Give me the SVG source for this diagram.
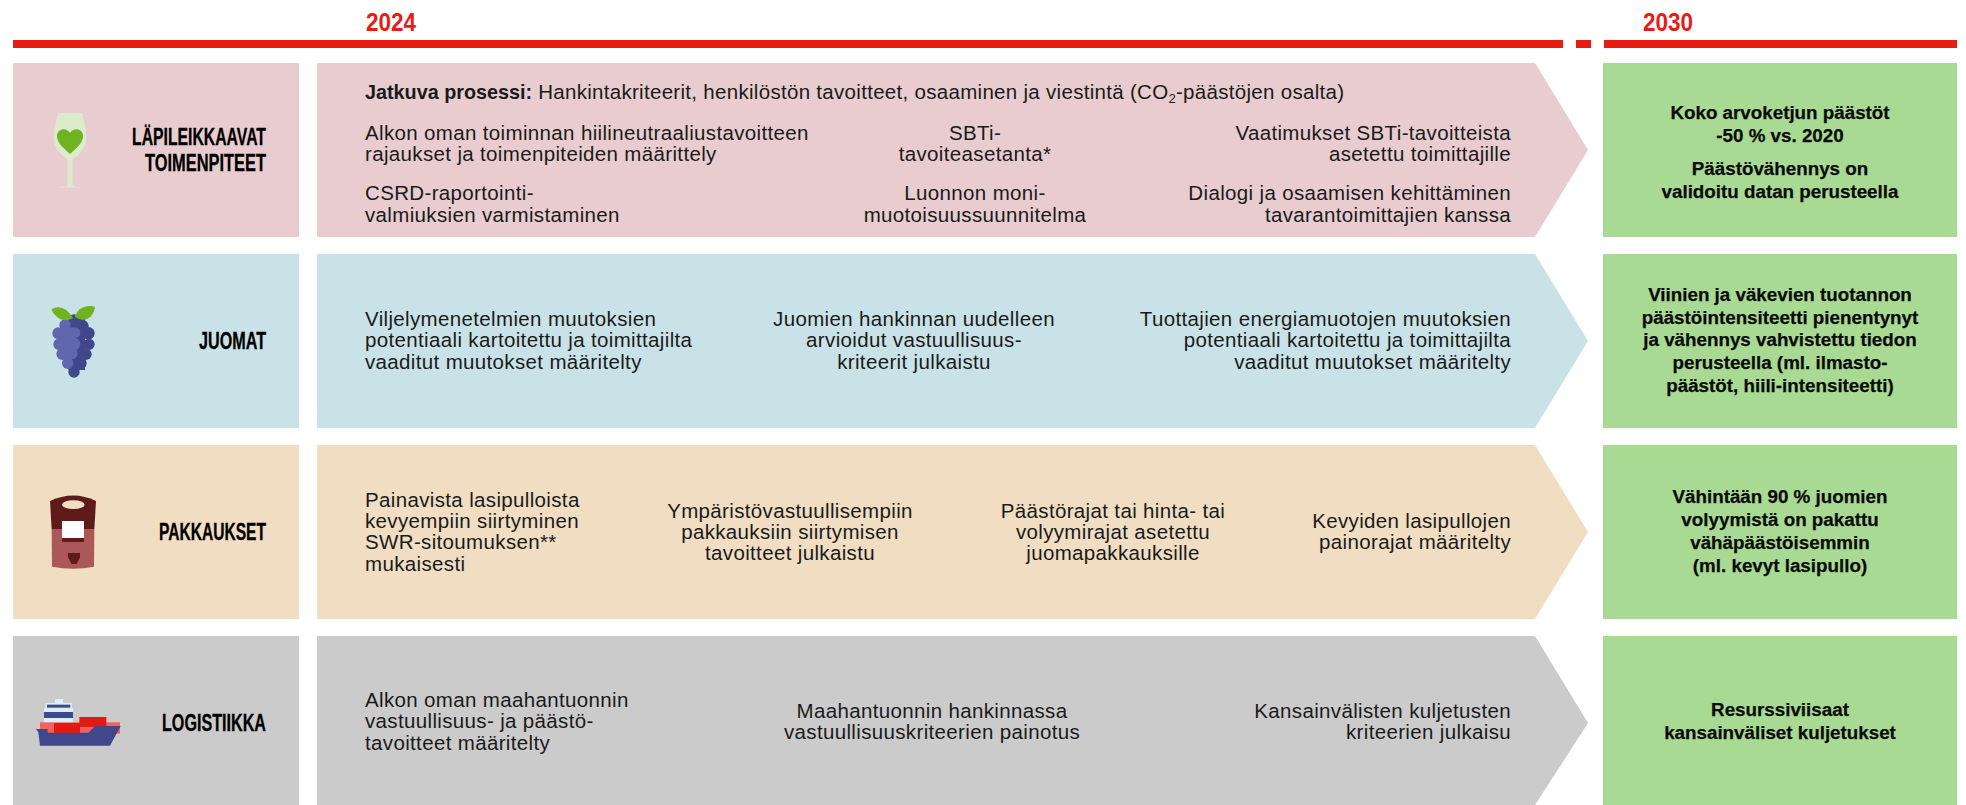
<svg xmlns="http://www.w3.org/2000/svg" width="1966" height="805" viewBox="0 0 1966 805">
<style>
text{font-family:"Liberation Sans",Arial,sans-serif;fill:#1a1a1a;font-size:20.5px;letter-spacing:.35px}
.r{text-anchor:end}.m{text-anchor:middle}
.h{font-weight:700;font-size:23px;fill:#000;stroke:#000;stroke-width:.3px;text-anchor:end;letter-spacing:0}
.y{font-weight:700;font-size:26.5px;fill:#e71d14;letter-spacing:0}
.g{font-weight:700;font-size:18.8px;text-anchor:middle;fill:#0a0a0a;stroke:#0a0a0a;stroke-width:.25px;letter-spacing:0}
.b{font-weight:700;font-size:19.8px;letter-spacing:0}
.red{fill:#e71d14}
</style>
<rect width="1966" height="805" fill="#fff"/>
<g id="timeline">
<rect class="red" x="13" y="40" width="1550" height="8"/><rect class="red" x="1576" y="40" width="15" height="8"/><rect class="red" x="1604" y="40" width="353" height="8"/>
<text class="y" x="366" y="31" textLength="50" lengthAdjust="spacingAndGlyphs">2024</text><text class="y" x="1643" y="31" textLength="50" lengthAdjust="spacingAndGlyphs">2030</text>
</g>
<g id="row1">
<rect x="13" y="63" width="286" height="174" fill="#e8cccf"/>
<path d="M58,113H82L85,125Q88,140 85,146Q80,155 72.500,159V186L82,187.500H58L67.500,186V159Q60,155 55,146Q53,135 55,125Z" fill="#dbebcb"/>
<path d="M70,154C62,147 57,142 57,136C57,128 67,127 70,133C73,127 83,128 83,136C83,142 78,147 70,154Z" fill="#6fb320"/>
<text class="h" x="266" y="145" textLength="134" lengthAdjust="spacingAndGlyphs">LÄPILEIKKAAVAT</text><text class="h" x="266" y="171" textLength="121" lengthAdjust="spacingAndGlyphs">TOIMENPITEET</text>
<polygon points="317,63 1535,63 1588,150 1535,237 317,237" fill="#e8cccf"/>
<text x="365" y="99" style="letter-spacing:.3px"><tspan class="b">Jatkuva prosessi:</tspan> Hankintakriteerit, henkilöstön tavoitteet, osaaminen ja viestintä (CO<tspan font-size="13" dy="4">2</tspan><tspan dy="-4">-päästöjen osalta)</tspan></text>
<text x="365" y="140">Alkon oman toiminnan hiilineutraaliustavoitteen</text><text x="365" y="161">rajaukset ja toimenpiteiden määrittely</text>
<text x="365" y="200">CSRD-raportointi-</text><text x="365" y="222">valmiuksien varmistaminen</text>
<text class="m" x="975" y="140">SBTi-</text><text class="m" x="975" y="161">tavoiteasetanta*</text>
<text class="m" x="975" y="200">Luonnon moni-</text><text class="m" x="975" y="222">muotoisuussuunnitelma</text>
<text class="r" x="1511" y="140">Vaatimukset SBTi-tavoitteista</text><text class="r" x="1511" y="161">asetettu toimittajille</text>
<text class="r" x="1511" y="200">Dialogi ja osaamisen kehittäminen</text><text class="r" x="1511" y="222">tavarantoimittajien kanssa</text>
<rect x="1603" y="63" width="354" height="174" fill="#a8da94"/>
<text class="g" x="1780" y="119">Koko arvoketjun päästöt</text><text class="g" x="1780" y="142">-50 % vs. 2020</text>
<text class="g" x="1780" y="175">Päästövähennys on</text><text class="g" x="1780" y="198">validoitu datan perusteella</text>
</g>
<g id="row2">
<rect x="13" y="254" width="286" height="174" fill="#c9e2e7"/>
<g transform="translate(0,250) scale(.33333)">
<g fill="#40478a"><circle cx="222" cy="210" r="17"/><circle cx="248" cy="228" r="18"/><circle cx="265" cy="250" r="19"/><circle cx="267" cy="283" r="17"/><circle cx="258" cy="313" r="17"/><circle cx="242" cy="340" r="18"/><circle cx="222" cy="366" r="17"/><rect x="205" y="205" width="50" height="155"/></g>
<g fill="#6166ae"><circle cx="195" cy="225" r="17"/><circle cx="225" cy="248" r="16"/><circle cx="175" cy="250" r="18"/><circle cx="178" cy="283" r="18"/><circle cx="222" cy="282" r="19"/><circle cx="187" cy="312" r="18"/><circle cx="215" cy="310" r="18"/><circle cx="203" cy="340" r="17"/><rect x="180" y="232" width="40" height="95"/></g>
<path d="M154,178Q190,158 220,205Q205,212 190,210Q165,205 154,178ZM224,200Q240,160 285,170Q282,195 262,207Q242,213 224,200Z" fill="#6fb320"/>
</g>
<text class="h" x="266" y="349" textLength="67" lengthAdjust="spacingAndGlyphs">JUOMAT</text>
<polygon points="317,254 1535,254 1588,341 1535,428 317,428" fill="#c9e2e7"/>
<text x="365" y="326">Viljelymenetelmien muutoksien</text><text x="365" y="347">potentiaali kartoitettu ja toimittajilta</text><text x="365" y="369">vaaditut muutokset määritelty</text>
<text class="m" x="914" y="326">Juomien hankinnan uudelleen</text><text class="m" x="914" y="347">arvioidut vastuullisuus-</text><text class="m" x="914" y="369">kriteerit julkaistu</text>
<text class="r" x="1511" y="326">Tuottajien energiamuotojen muutoksien</text><text class="r" x="1511" y="347">potentiaali kartoitettu ja toimittajilta</text><text class="r" x="1511" y="369">vaaditut muutokset määritelty</text>
<rect x="1603" y="254" width="354" height="174" fill="#a8da94"/>
<text class="g" x="1780" y="301">Viinien ja väkevien tuotannon</text><text class="g" x="1780" y="324">päästöintensiteetti pienentynyt</text><text class="g" x="1780" y="346">ja vähennys vahvistettu tiedon</text><text class="g" x="1780" y="369">perusteella (ml. ilmasto-</text><text class="g" x="1780" y="392">päästöt, hiili-intensiteetti)</text>
</g>
<g id="row3">
<rect x="13" y="445" width="286" height="174" fill="#f0ddc2"/>
<g transform="translate(0,440) scale(.33333)">
<path d="M155,267H283L282,380Q220,392 156,380Z" fill="#ad5858"/>
<path d="M150,183Q220,150 288,183L283,267H155Z" fill="#5f1a1a"/>
<ellipse cx="220" cy="194" rx="34" ry="13" fill="#f0ddc2"/>
<rect x="186" y="243" width="66" height="63" fill="#5f1a1a"/><rect x="186" y="243" width="66" height="51" fill="#fff"/>
<path d="M204,339H240V352L230,372H215L204,352Z" fill="#5f1a1a"/>
</g>
<text class="h" x="266" y="540" textLength="107" lengthAdjust="spacingAndGlyphs">PAKKAUKSET</text>
<polygon points="317,445 1535,445 1588,532 1535,619 317,619" fill="#f0ddc2"/>
<text x="365" y="507">Painavista lasipulloista</text><text x="365" y="528">kevyempiin siirtyminen</text><text x="365" y="549">SWR-sitoumuksen**</text><text x="365" y="571">mukaisesti</text>
<text class="m" x="790" y="518">Ympäristövastuullisempiin</text><text class="m" x="790" y="539">pakkauksiin siirtymisen</text><text class="m" x="790" y="560">tavoitteet julkaistu</text>
<text class="m" x="1113" y="518">Päästörajat tai hinta- tai</text><text class="m" x="1113" y="539">volyymirajat asetettu</text><text class="m" x="1113" y="560">juomapakkauksille</text>
<text class="r" x="1511" y="528">Kevyiden lasipullojen</text><text class="r" x="1511" y="549">painorajat määritelty</text>
<rect x="1603" y="445" width="354" height="174" fill="#a8da94"/>
<text class="g" x="1780" y="503">Vähintään 90 % juomien</text><text class="g" x="1780" y="526">volyymistä on pakattu</text><text class="g" x="1780" y="549">vähäpäästöisemmin</text><text class="g" x="1780" y="572">(ml. kevyt lasipullo)</text>
</g>
<g id="row4">
<rect x="13" y="636" width="286" height="169" fill="#cbcbcb"/>
<g transform="translate(0,625) scale(.33333)">
<rect x="165" y="222" width="24" height="14" fill="#dbeef5"/>
<rect x="136" y="234" width="80" height="60" fill="#dbeef5"/><rect x="141" y="239" width="70" height="9" fill="#40478a"/><rect x="132" y="249" width="87" height="43" fill="#dbeef5"/><rect x="132" y="261" width="87" height="18" fill="#40478a"/>
<rect x="120" y="292" width="240" height="34" fill="#f0625f"/>
<rect x="162" y="294" width="78" height="30" fill="#e01b14"/><rect x="238" y="276" width="81" height="30" fill="#e01b14"/>
<path d="M108,312H143V323H265L285,303H362L330,362H120L115,322Z" fill="#40478a"/>
</g>
<text class="h" x="266" y="731" textLength="104" lengthAdjust="spacingAndGlyphs">LOGISTIIKKA</text>
<polygon points="317,636 1535,636 1588,723 1535,805 317,805" fill="#cbcbcb"/>
<text x="365" y="707">Alkon oman maahantuonnin</text><text x="365" y="728">vastuullisuus- ja päästö-</text><text x="365" y="750">tavoitteet määritelty</text>
<text class="m" x="932" y="718">Maahantuonnin hankinnassa</text><text class="m" x="932" y="739">vastuullisuuskriteerien painotus</text>
<text class="r" x="1511" y="718">Kansainvälisten kuljetusten</text><text class="r" x="1511" y="739">kriteerien julkaisu</text>
<rect x="1603" y="636" width="354" height="169" fill="#a8da94"/>
<text class="g" x="1780" y="716">Resurssiviisaat</text><text class="g" x="1780" y="739">kansainväliset kuljetukset</text>
</g>
</svg>
